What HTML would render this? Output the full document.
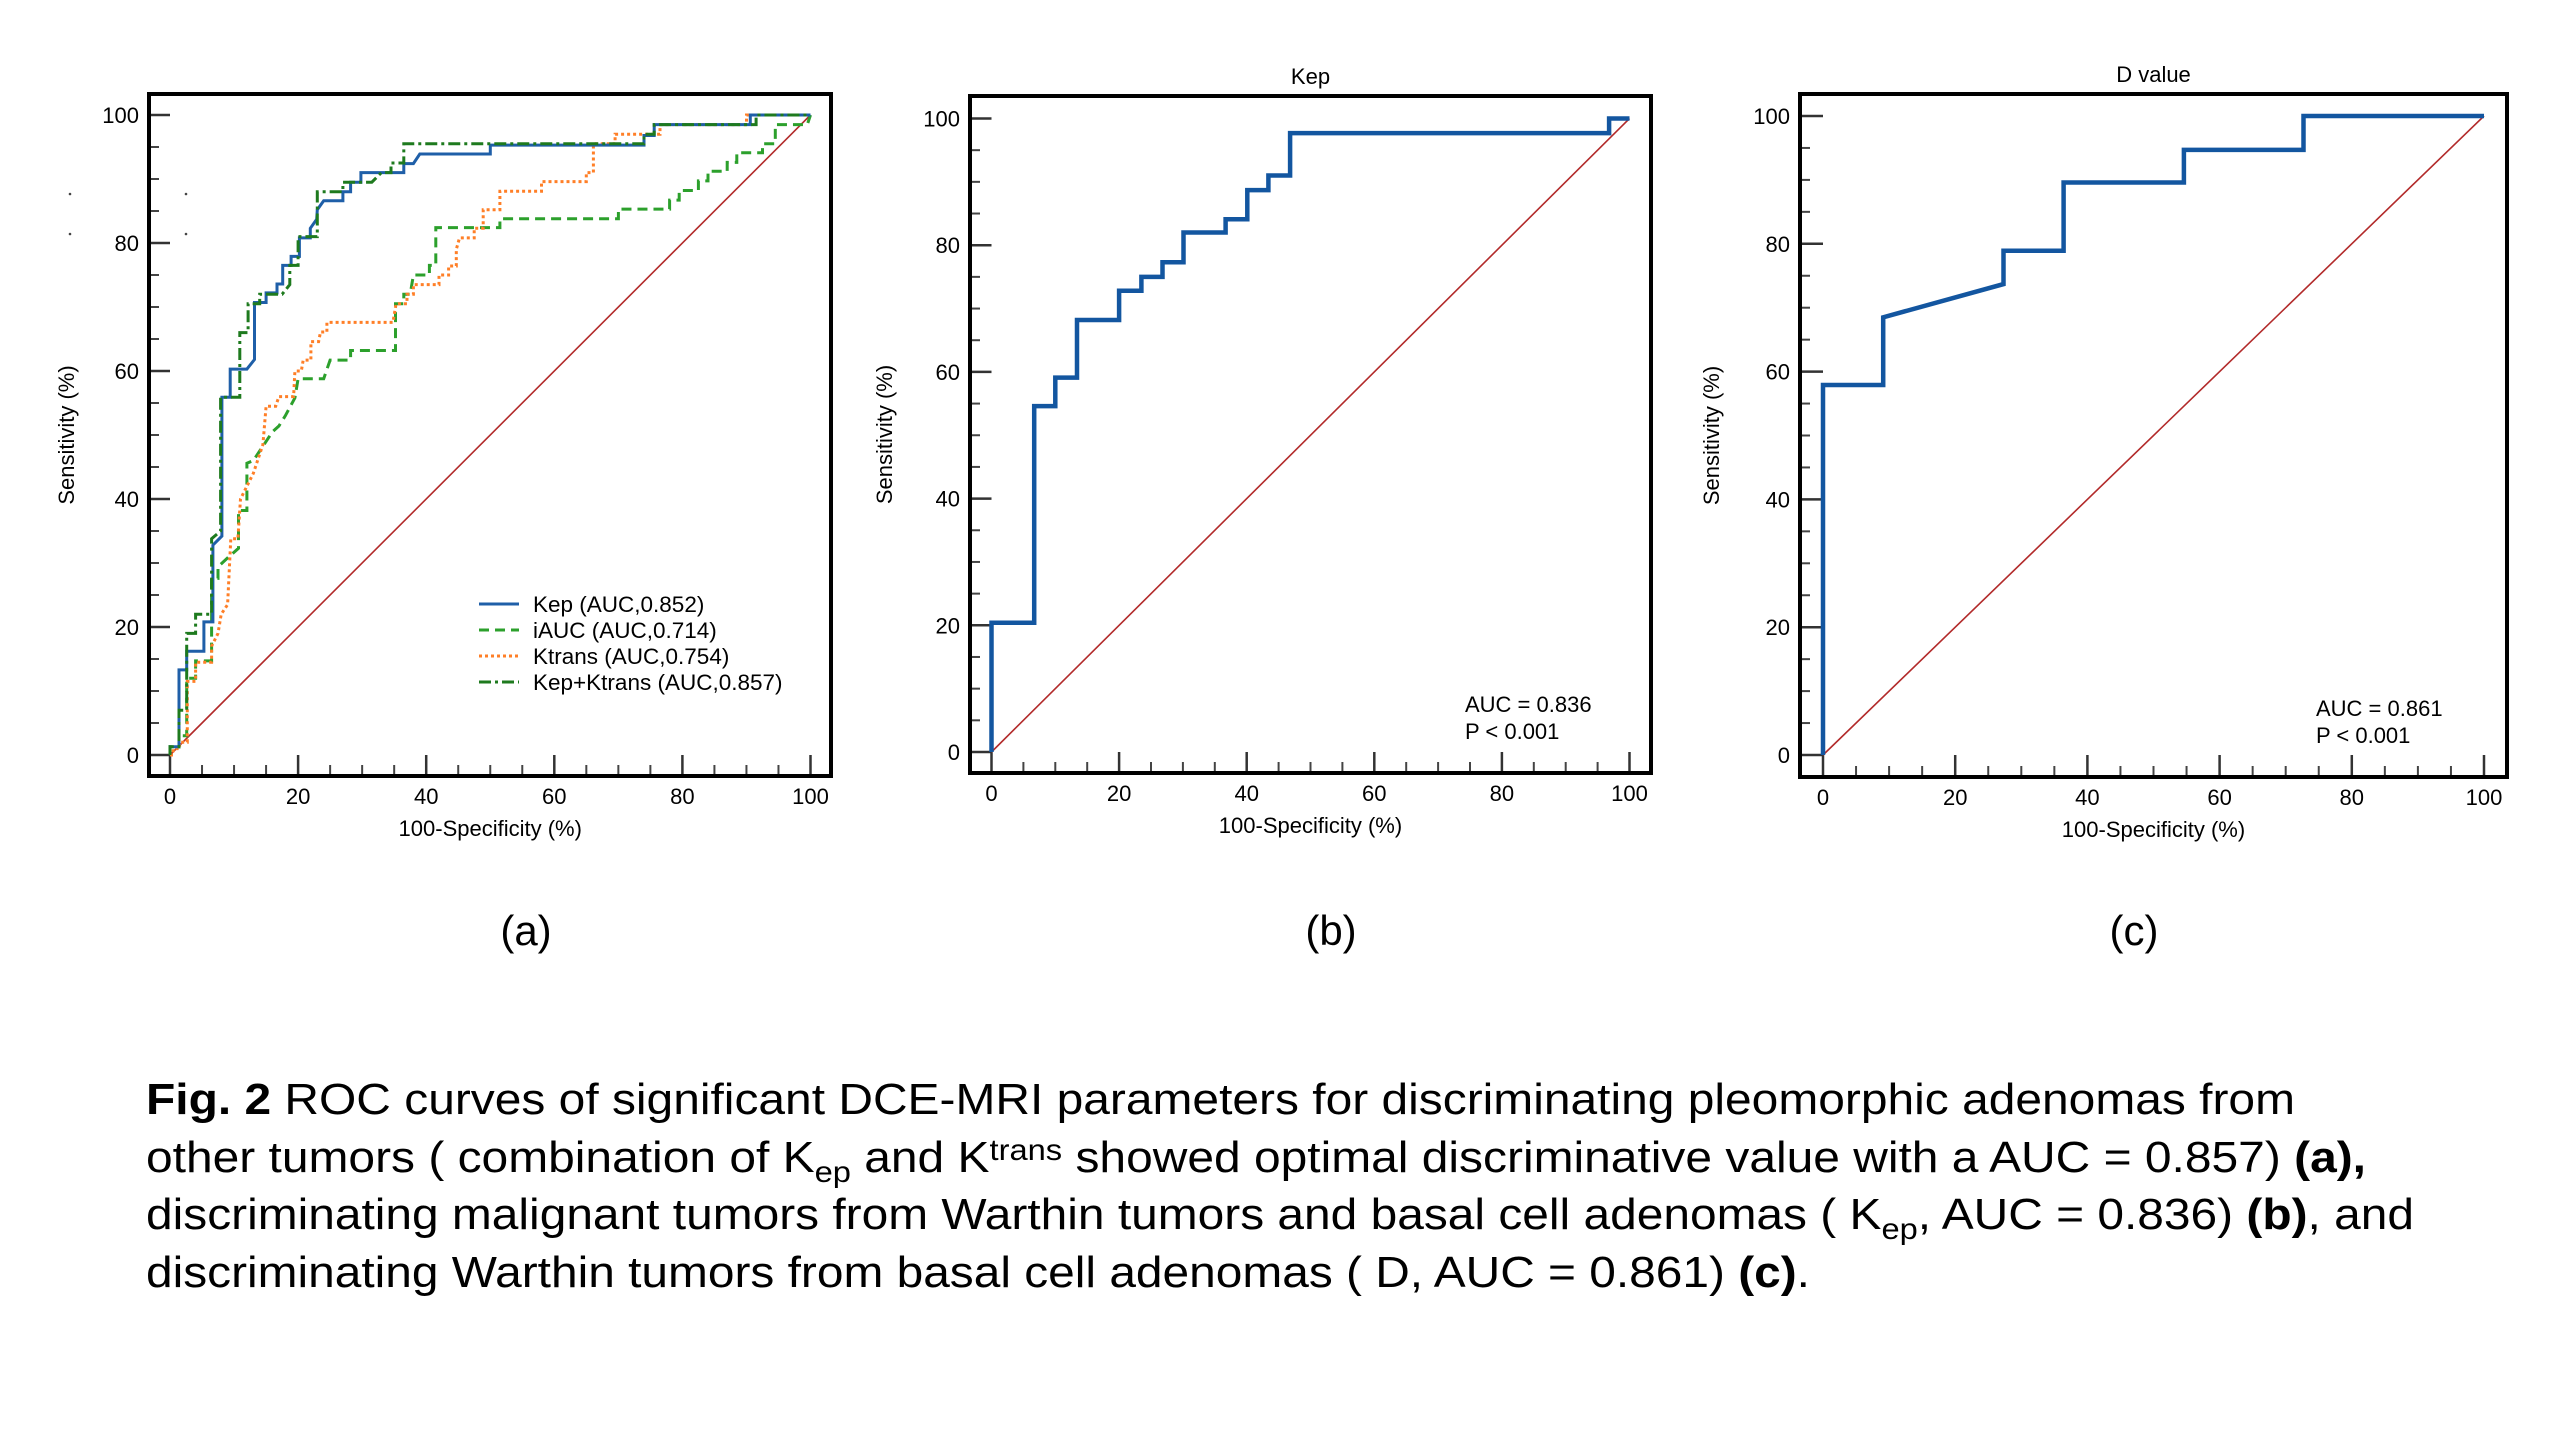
<!DOCTYPE html>
<html><head><meta charset="utf-8"><style>
html,body{margin:0;padding:0;background:#fff;}
svg{display:block;font-family:"Liberation Sans",Arial,sans-serif;}
</style></head><body>
<svg id="fig" width="2560" height="1440" viewBox="0 0 2560 1440" xmlns="http://www.w3.org/2000/svg">
<rect width="2560" height="1440" fill="#fff"/>
<circle cx="70" cy="194" r="1.3" fill="#444"/>
<circle cx="186" cy="194" r="1.3" fill="#444"/>
<circle cx="70" cy="234" r="1.3" fill="#444"/>
<circle cx="186" cy="234" r="1.3" fill="#444"/>
<g id="panels"></g>
<text x="526" y="945" font-size="42" text-anchor="middle">(a)</text>
<text x="1331" y="945" font-size="42" text-anchor="middle">(b)</text>
<text x="2134" y="945" font-size="42" text-anchor="middle">(c)</text>
<g font-size="44" fill="#000">
<text x="146" y="1114" textLength="2149" lengthAdjust="spacingAndGlyphs"><tspan font-weight="bold">Fig. 2</tspan> ROC curves of significant DCE-MRI parameters for discriminating pleomorphic adenomas from</text>
<text x="146" y="1172" textLength="2220" lengthAdjust="spacingAndGlyphs">other tumors ( combination of K<tspan font-size="30" dy="10">ep</tspan><tspan dy="-10"> and K</tspan><tspan font-size="30" dy="-12">trans</tspan><tspan dy="12"> showed optimal discriminative value with a AUC = 0.857) </tspan><tspan font-weight="bold">(a),</tspan></text>
<text x="146" y="1229" textLength="2268" lengthAdjust="spacingAndGlyphs">discriminating malignant tumors from Warthin tumors and basal cell adenomas ( K<tspan font-size="30" dy="10">ep</tspan><tspan dy="-10">, AUC = 0.836) </tspan><tspan font-weight="bold">(b)</tspan>, and</text>
<text x="146" y="1287" textLength="1664" lengthAdjust="spacingAndGlyphs">discriminating Warthin tumors from basal cell adenomas ( D, AUC = 0.861) <tspan font-weight="bold">(c)</tspan>.</text>
</g>
</svg>
<script>
// ---- Panel (a) data: ROC step vertices (FPR %, TPR %) ----
const kepA_x = [0,0,1.4,1.4,2.6,2.6,5.3,5.3,6.7,6.7,8.1,8.1,9.4,9.4,12,13.2,13.2,15,15,16.7,16.7,17.6,17.6,18.9,18.9,20.2,20.2,21.9,21.9,22.9,23,24,27,27,28.2,28.2,29.8,29.8,36.5,36.5,38,39,50,50,74,74,75.6,75.6,90.6,90.6,100];
const kepA_y = [0,1.3,1.3,13.3,13.3,16.2,16.2,20.8,20.8,32.8,34.2,55.9,55.9,60.3,60.3,61.8,70.7,70.7,72.2,72.2,73.6,73.6,76.5,76.5,77.9,77.9,80.8,80.8,82.3,83.7,85.2,86.6,86.6,88,88,89.5,89.5,91,91,92.4,92.4,93.9,93.9,95.3,95.3,96.8,96.8,98.5,98.5,100,100];
const iaucA_x = [0,0,1.4,1.4,2.6,2.6,4,4,6.5,6.5,7.5,7.5,9,10.7,10.7,12,12,13,15,16,17,18,19.5,20,24,25,28.2,28.2,35.2,35.2,36.5,36.5,37.5,38,40.5,40.5,41.5,41.5,51.5,51.5,70,70,78,78,79.5,79.5,82.5,82.5,84,84,87,87,88.5,88.5,92.5,92.5,94.5,94.5,99.5,100];
const iaucA_y = [0,1.3,1.3,3,3,12,12,14.7,14.7,27.6,27.6,29.4,30.8,32.3,38.2,38.2,45.6,46,49,50.5,51.4,53,55.8,58.8,58.8,61.7,61.7,63.2,63.2,70.5,70.5,72,72,75,75,76.5,76.5,82.4,82.4,83.8,83.8,85.3,85.3,86.7,86.7,88.2,88.2,89.7,89.7,91.2,91.2,92.6,92.6,94.1,94.1,95.5,95.5,98.5,98.5,100];
const ktransA_x = [0,0.5,0.5,1.5,1.5,2.7,2.7,4,4,6.5,6.5,7.5,8,9,9.5,10.6,11,13,14.5,15,16.5,17,19.3,19.5,20.5,20.8,22,22,23.2,23.5,24.5,24.5,34.8,35.3,37,37,38,38,42,42,43.5,43.5,44.7,44.7,45.2,47.5,47.5,48.9,48.9,51.5,51.5,58,58,65,65,66.1,66.1,69.5,69.5,76.5,76.5,90,90,100];
const ktransA_y = [0,0,1,1,2,2,11.5,11.5,14.5,14.5,17,19,22,23.5,33.8,33.8,40,44,48.5,54.5,54.5,56,56,60,60,61.7,61.7,64.6,64.6,66.1,66.1,67.6,67.6,70.5,70.5,72,72,73.5,73.5,75,75,76.4,76.4,79,80.8,80.8,82.3,82.3,85.2,85.2,88.1,88.1,89.6,89.6,91,91,95.5,95.5,97,97,98.5,98.5,100,100];
const comboA_x = [0,0,1.4,1.4,2.6,2.6,4,4,6.5,6.5,7.9,7.9,10.9,10.9,12.2,12.2,14,14,17.5,18.7,18.7,20,20,23,23,27,27,31.5,33,34.5,34.5,36.5,36.5,74,74,75.6,75.6,91.5,91.5,100];
const comboA_y = [0,1.3,1.3,7,7,19,19,22,22,33.8,35,55.9,55.9,66,66,70.5,70.5,72,72,73.5,76.5,76.5,81,81,88,88,89.5,89.5,91,91,92.5,92.5,95.5,95.5,97,97,98.5,98.5,100,100];
// ---- Panel (b) Kep ----
const kepB_x = [0,0,6.7,6.7,10,10,13.4,13.4,20,20,23.5,23.5,26.8,26.8,30.1,30.1,36.7,36.7,40.1,40.1,43.4,43.4,46.8,46.8,96.8,96.8,100];
const kepB_y = [0,20.4,20.4,54.6,54.6,59.1,59.1,68.2,68.2,72.8,72.8,75,75,77.3,77.3,82,82,84.1,84.1,88.7,88.7,91,91,97.7,97.7,100,100];
// ---- Panel (c) D value ----
const dC_x = [0,0,9.1,9.1,27.3,27.3,36.4,36.4,54.6,54.6,72.7,72.7,100];
const dC_y = [0,57.9,57.9,68.5,73.7,78.9,78.9,89.6,89.6,94.7,94.7,100,100];
// ticks
const majorTicks = [0,20,40,60,80,100];
const minorTicks = [5,10,15,25,30,35,45,50,55,65,70,75,85,90,95];
const legendLabels = ["Kep (AUC,0.852)","iAUC (AUC,0.714)","Ktrans (AUC,0.754)","Kep+Ktrans (AUC,0.857)"];

const NS="http://www.w3.org/2000/svg";
const root=document.getElementById('panels');
function mk(tag,attrs,parent){const e=document.createElementNS(NS,tag);for(const k in attrs)e.setAttribute(k,attrs[k]);(parent||root).appendChild(e);return e;}

const panels=[
 {key:'a',frame:[149,94,831,776],x0:170,x100:810.5,y0:755,y100:115,lab:139,ytitleX:66,title:null},
 {key:'b',frame:[970,96,1651,773],x0:991.5,x100:1629.5,y0:752,y100:118.5,lab:960,ytitleX:884,title:'Kep'},
 {key:'c',frame:[1800,94,2507,777],x0:1823,x100:2484,y0:755,y100:116,lab:1790,ytitleX:1711,title:'D value'}
];

function drawPanel(p){
  const g=mk('g',{});
  
  
  const sx=v=>p.x0+(p.x100-p.x0)*v/100, sy=v=>p.y0+(p.y100-p.y0)*v/100;
  p.sx=sx;p.sy=sy;p.g=g;
  const [l,t,r,b]=p.frame;
  majorTicks.forEach(v=>{
    const ty=mk('line',{x1:l,x2:p.x0,y1:sy(v),y2:sy(v),stroke:'#333','stroke-width':2.5},g);
    
    
    const tx=mk('line',{x1:sx(v),x2:sx(v),y1:b,y2:p.y0,stroke:'#333','stroke-width':2.5},g);
    
    
    const yl=mk('text',{x:p.lab,y:sy(v)+8,'font-size':22,'text-anchor':'end'},g);
    yl.textContent=v;
    
    
    const xl=mk('text',{x:sx(v),y:b+28,'font-size':22,'text-anchor':'middle'},g);
    xl.textContent=v;
    
    
  });
  minorTicks.forEach(v=>{
    const ty=mk('line',{x1:l,x2:l+10,y1:sy(v),y2:sy(v),stroke:'#444','stroke-width':2},g);
    
    
    const tx=mk('line',{x1:sx(v),x2:sx(v),y1:b,y2:b-11,stroke:'#444','stroke-width':2},g);
    
    
  });
  const d=mk('line',{x1:sx(0),y1:sy(0),x2:sx(100),y2:sy(100),stroke:'#b22a2a','stroke-width':1.6},g);
  
  
  const fr=mk('rect',{x:l,y:t,width:r-l,height:b-t,fill:'none',stroke:'#000','stroke-width':4},g);
  
  
  const xt=mk('text',{x:(p.x0+p.x100)/2,y:b+60,'font-size':22,'text-anchor':'middle'},g);
  xt.textContent='100-Specificity (%)';
  
  
  const yt=mk('text',{x:0,y:0,'font-size':22,'text-anchor':'middle',transform:`translate(${p.ytitleX+8},${(t+b)/2}) rotate(-90)`},g);
  yt.textContent='Sensitivity (%)';
  
  
  if(p.title){
    const tt=mk('text',{x:(p.x0+p.x100)/2,y:t-12,'font-size':22,'text-anchor':'middle'},g);
    tt.textContent=p.title;
    
    
  }
}
function curve(p,xs,ys,color,w,dash,name){
  const pts=xs.map((x,i)=>p.sx(x).toFixed(1)+','+p.sy(ys[i]).toFixed(1)).join(' ');
  const a={points:pts,fill:'none',stroke:color,'stroke-width':w,'stroke-linejoin':'miter'};
  if(dash)a['stroke-dasharray']=dash;
  const e=mk('polyline',a,p.g);
  
  
}
panels.forEach(drawPanel);
const [pa,pb,pc]=panels;
curve(pa,iaucA_x,iaucA_y,'#2ca02c',3,'10,6','curve-iauc');
curve(pa,ktransA_x,ktransA_y,'#ff7f27',3,'3,3','curve-ktrans');
curve(pa,kepA_x,kepA_y,'#1f5fa8',3,null,'curve-kep');
curve(pa,comboA_x,comboA_y,'#1e7a1e',3,'12,4,3,4','curve-kep-ktrans');
curve(pb,kepB_x,kepB_y,'#1356a0',4.5,null,'curve-kep-b');
curve(pc,dC_x,dC_y,'#1356a0',4.5,null,'curve-d-value');

const legStyles=[['#1f5fa8',null],['#2ca02c','10,6'],['#ff7f27','3,3'],['#1e7a1e','12,4,3,4']];
const lg=mk('g',{},pa.g);


legendLabels.forEach((s,i)=>{
  const y=604+i*26;
  const a={x1:479,x2:519,y1:y,y2:y,stroke:legStyles[i][0],'stroke-width':3};
  if(legStyles[i][1])a['stroke-dasharray']=legStyles[i][1];
  const ln=mk('line',a,lg);
  
  
  const tx=mk('text',{x:533,y:y+8,'font-size':22.5},lg);
  tx.textContent=s;
  
  
});
[[pb,1465,712,'AUC = 0.836','P < 0.001'],[pc,2316,716,'AUC = 0.861','P < 0.001']].forEach(([p,x,y,a,b])=>{
  const t1=mk('text',{x:x,y:y,'font-size':22},p.g);
  t1.textContent=a;
  
  
  const t2=mk('text',{x:x,y:y+27,'font-size':22},p.g);
  t2.textContent=b;
  
  
});
</script>
</body></html>
